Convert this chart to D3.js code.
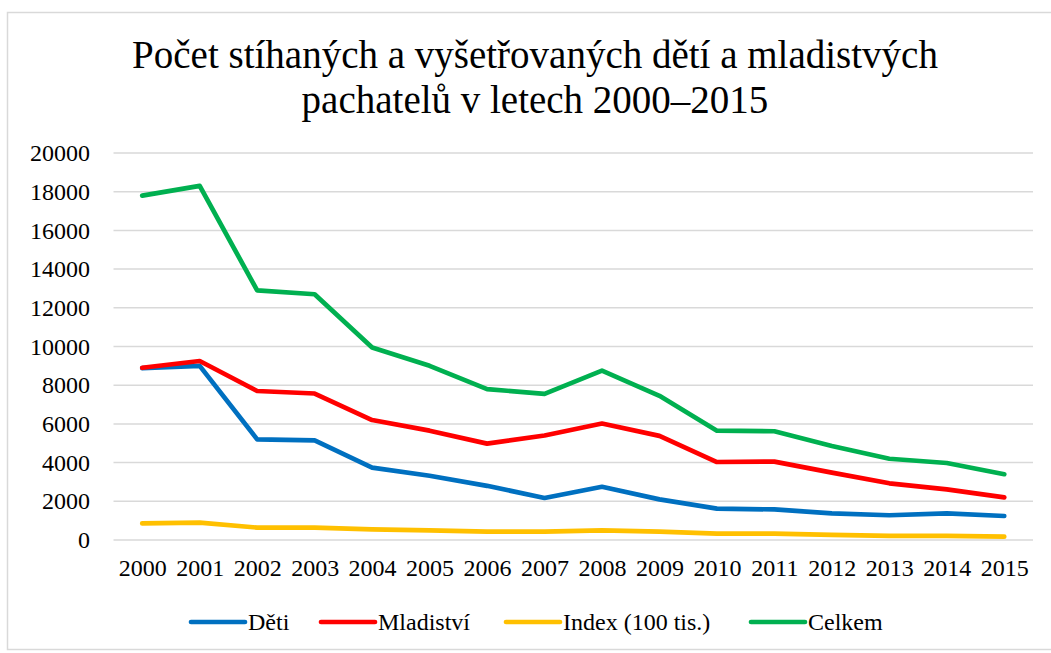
<!DOCTYPE html>
<html>
<head>
<meta charset="utf-8">
<script src="https://cdn.jsdelivr.net/npm/d3@7"></script>
<style>
    body { margin: 0; background: #fff; }
    svg { display: block; font-family: "Liberation Serif", "DejaVu Serif", serif; }
</style>
</head>
<body>
<svg id="chart" width="1051" height="653"></svg>
<script>
// Data
const roky = ['2000', '2001', '2002', '2003', '2004', '2005', '2006', '2007',
    '2008', '2009', '2010', '2011', '2012', '2013', '2014', '2015'];
const deti = [8880, 9000, 5200, 5150, 3740, 3320, 2800, 2170, 2750, 2100, 1620, 1580, 1380, 1280, 1380, 1240];
const mladistvi = [8900, 9250, 7700, 7570, 6200, 5650, 4980, 5400, 6020, 5380, 4030, 4050, 3480, 2930, 2620, 2200];
const indexValues = [860, 900, 640, 640, 550, 500, 430, 430, 500, 430, 330, 330, 260, 210, 210, 170];
const celkem = [17800, 18300, 12900, 12700, 9950, 9000, 7800, 7550, 8750, 7450, 5650, 5620, 4860, 4200, 3980, 3400];
const yTicks = [0, 2000, 4000, 6000, 8000, 10000, 12000, 14000, 16000, 18000, 20000];

const series = [
    { name: 'Děti', values: deti, color: '#0070C0' },
    { name: 'Mladiství', values: mladistvi, color: '#FF0000' },
    { name: 'Index (100 tis.)', values: indexValues, color: '#FFC000' },
    { name: 'Celkem', values: celkem, color: '#00B050' }
];

const svg = d3.select('#chart');

// Ramecek grafu
svg.append('rect')
    .attr('x', 7.5).attr('y', 12.5)
    .attr('width', 1060).attr('height', 637)
    .attr('fill', 'none')
    .attr('stroke', '#d9d9d9')
    .attr('stroke-width', 1.5);

// Titulek
const title = svg.append('text')
    .attr('text-anchor', 'middle')
    .attr('font-size', 39)
    .attr('fill', '#000');
title.append('tspan').attr('x', 535).attr('y', 68)
    .text('Počet stíhaných a vyšetřovaných dětí a mladistvých');
title.append('tspan').attr('x', 535).attr('y', 113)
    .text('pachatelů v letech 2000–2015');

// Skaly
const xScale = d3.scalePoint()
    .domain(roky)
    .range([113.5, 1033])
    .padding(0.5);

const yScale = d3.scaleLinear()
    .domain([0, 20000])
    .range([540, 153]);

// Mrizka
svg.append('g')
    .selectAll('line')
    .data(yTicks)
    .enter()
    .append('line')
    .attr('x1', 113.5)
    .attr('x2', 1033)
    .attr('y1', d => yScale(d))
    .attr('y2', d => yScale(d))
    .attr('stroke', '#d9d9d9')
    .attr('stroke-width', 1.5);

// Osa Y
const yAxis = d3.axisLeft(yScale)
    .tickValues(yTicks)
    .tickFormat(d3.format('d'))
    .tickSize(0)
    .tickPadding(0);

svg.append('g')
    .attr('transform', 'translate(90,0)')
    .call(yAxis)
    .call(g => g.select('.domain').remove())
    .selectAll('text')
    .attr('font-family', '"Liberation Serif", serif')
    .attr('font-size', 24)
    .attr('fill', '#000');

// Osa X
const xAxis = d3.axisBottom(xScale)
    .tickSize(0)
    .tickPadding(0);

svg.append('g')
    .attr('transform', 'translate(0,559)')
    .call(xAxis)
    .call(g => g.select('.domain').remove())
    .selectAll('text')
    .attr('font-family', '"Liberation Serif", serif')
    .attr('font-size', 24)
    .attr('fill', '#000');

// Cary
const line = d3.line()
    .x((d, i) => xScale(roky[i]))
    .y(d => yScale(d));

series.forEach(s => {
    svg.append('path')
        .datum(s.values)
        .attr('d', line)
        .attr('fill', 'none')
        .attr('stroke', s.color)
        .attr('stroke-width', 4.7)
        .attr('stroke-linejoin', 'round')
        .attr('stroke-linecap', 'round');
});

// Legenda
const legendX = [191, 321, 506, 751];
const legend = svg.append('g').attr('transform', 'translate(0,622)');

series.forEach((s, i) => {
    const item = legend.append('g')
        .attr('transform', `translate(${legendX[i]},0)`);

    item.append('line')
        .attr('x1', 0).attr('x2', 54)
        .attr('y1', 0).attr('y2', 0)
        .attr('stroke', s.color)
        .attr('stroke-width', 4.7)
        .attr('stroke-linecap', 'round');

    item.append('text')
        .attr('x', 57)
        .attr('y', 8)
        .attr('font-size', 24)
        .attr('fill', '#000')
        .text(s.name);
});
</script>
</body>
</html>
